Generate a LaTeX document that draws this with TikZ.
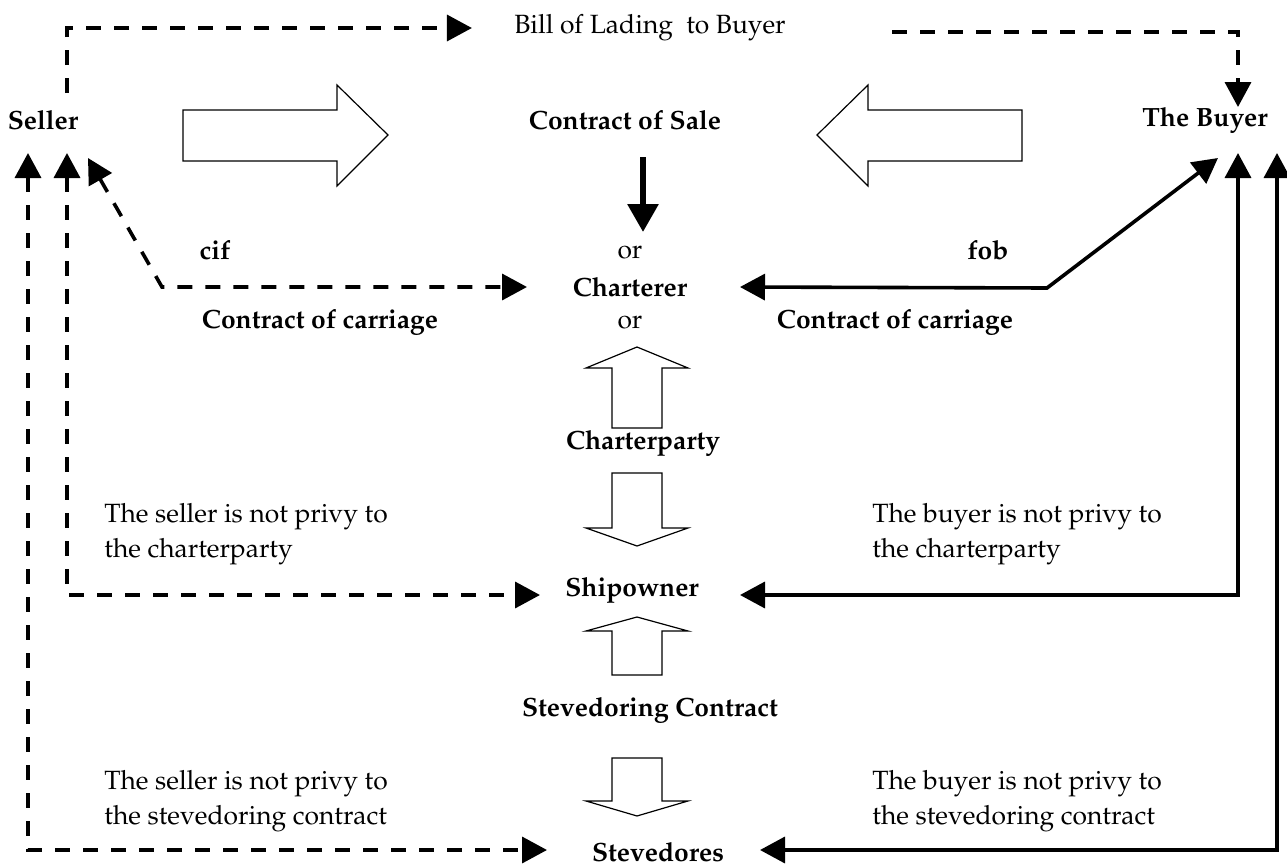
\documentclass[tikz,border=0pt]{standalone}
\usepackage[T1]{fontenc}
\usepackage{mathpazo}
\usetikzlibrary{arrows.meta,calc}

\begin{document}
\begin{tikzpicture}[
    x=0.5pt, y=-0.5pt,
    font=\fontsize{13.2}{17.5}\selectfont,
    >={Triangle[length=12.5pt, width=13pt]},
    party/.style={font=\fontsize{13.2}{17.5}\selectfont\bfseries, inner sep=0pt},
    plain/.style={inner sep=0pt},
    note/.style={align=left, anchor=west, inner sep=0pt},
    dasharrow/.style={line width=1.8pt, dash pattern=on 7.5pt off 6.5pt},
    solidarrow/.style={line width=1.8pt},
    heavyarrow/.style={line width=3pt, -{Triangle[length=14pt, width=15pt]}},
    hollow/.style={draw, line width=0.6pt, fill=white, line join=miter}
]
\useasboundingbox (0,0) rectangle (1287,867);

% ------------------------------------------------------------
% parties and labels
% ------------------------------------------------------------
\node[party] (seller) at (43,120) {Seller};
\node[party] (buyer) at (1205,120) {The Buyer};
\node[party] (sale) at (625,120) {Contract of Sale};
\node[plain] (bill) at (650,28) {Bill of Lading\ \ to Buyer};

\node[plain] (or1) at (630,252) {or};
\node[party] (charterer) at (630,287) {Charterer};
\node[plain] (or2) at (630,322) {or};

\node[party] (cif) at (215,250) {cif};
\node[party] (fob) at (988,250) {fob};
\node[party] (carrleft) at (320,322) {Contract of carriage};
\node[party] (carrright) at (895,322) {Contract of carriage};

\node[party] (cparty) at (643,443) {Charterparty};
\node[party] (ship) at (632,590) {Shipowner};
\node[party] (stevcon) at (650,710) {Stevedoring Contract};
\node[party] (steved) at (658,852) {Stevedores};

\node[note] (sellercp) at (104,534) {The seller is not privy to\\the charterparty};
\node[note] (buyercp) at (872,534) {The buyer is not privy to\\the charterparty};
\node[note] (sellersc) at (104,801) {The seller is not privy to\\the stevedoring contract};
\node[note] (buyersc) at (872,801) {The buyer is not privy to\\the stevedoring contract};

% ------------------------------------------------------------
% hollow block arrows
% ------------------------------------------------------------
\draw[hollow] (183,110) -- (337,110) -- (337,85) -- (388,135) -- (337,186)
    -- (337,161) -- (183,161) -- cycle;
\draw[hollow] (1022,110) -- (868,110) -- (868,85) -- (817,135) -- (868,186)
    -- (868,161) -- (1022,161) -- cycle;
\draw[hollow] (612,428) -- (612,368) -- (586,368) -- (637,347) -- (688,368)
    -- (662,368) -- (662,428) -- cycle;
\draw[hollow] (612,473) -- (612,528) -- (586,528) -- (637,546) -- (688,528)
    -- (662,528) -- (662,473) -- cycle;
\draw[hollow] (612,675) -- (612,631) -- (586,631) -- (637,617) -- (688,631)
    -- (662,631) -- (662,675) -- cycle;
\draw[hollow] (612,758) -- (612,801) -- (586,801) -- (637,816) -- (688,801)
    -- (662,801) -- (662,758) -- cycle;

% ------------------------------------------------------------
% connectors
% ------------------------------------------------------------
\coordinate (cifbend) at (162,287);
\coordinate (fobbend) at (1047,288);

% bill of lading
\draw[dasharrow, ->] ($(seller)+(24,-27)$) |- ($(bill.west)+(-42,0)$);
\draw[dasharrow, ->] ($(bill.east)+(106,4)$) -| ($(buyer)+(33,-13)$);

% contract of sale
\draw[heavyarrow] ($(sale)+(18,37)$) -- ($(or1)+(13,-20)$);

% seller side
\draw[dasharrow, <->] ($(seller)+(45,38)$) -- (cifbend)
    -- ($(charterer)+(-103,0)$);
\draw[dasharrow, <->] ($(seller)+(24,33)$) |- ($(ship)+(-92,5)$);
\draw[dasharrow, <->] ($(seller)+(-15,33)$) |- ($(steved)+(-111,-2)$);

% buyer side
\draw[solidarrow, <->] ($(buyer)+(13,38)$) -- (fobbend)
    -- ($(charterer)+(110,0)$);
\draw[solidarrow, <->] ($(buyer)+(33,33)$) |- ($(ship)+(108,5)$);
\draw[solidarrow, <->] ($(buyer)+(72,33)$) |- ($(steved)+(102,-2)$);

\end{tikzpicture}
\end{document}
